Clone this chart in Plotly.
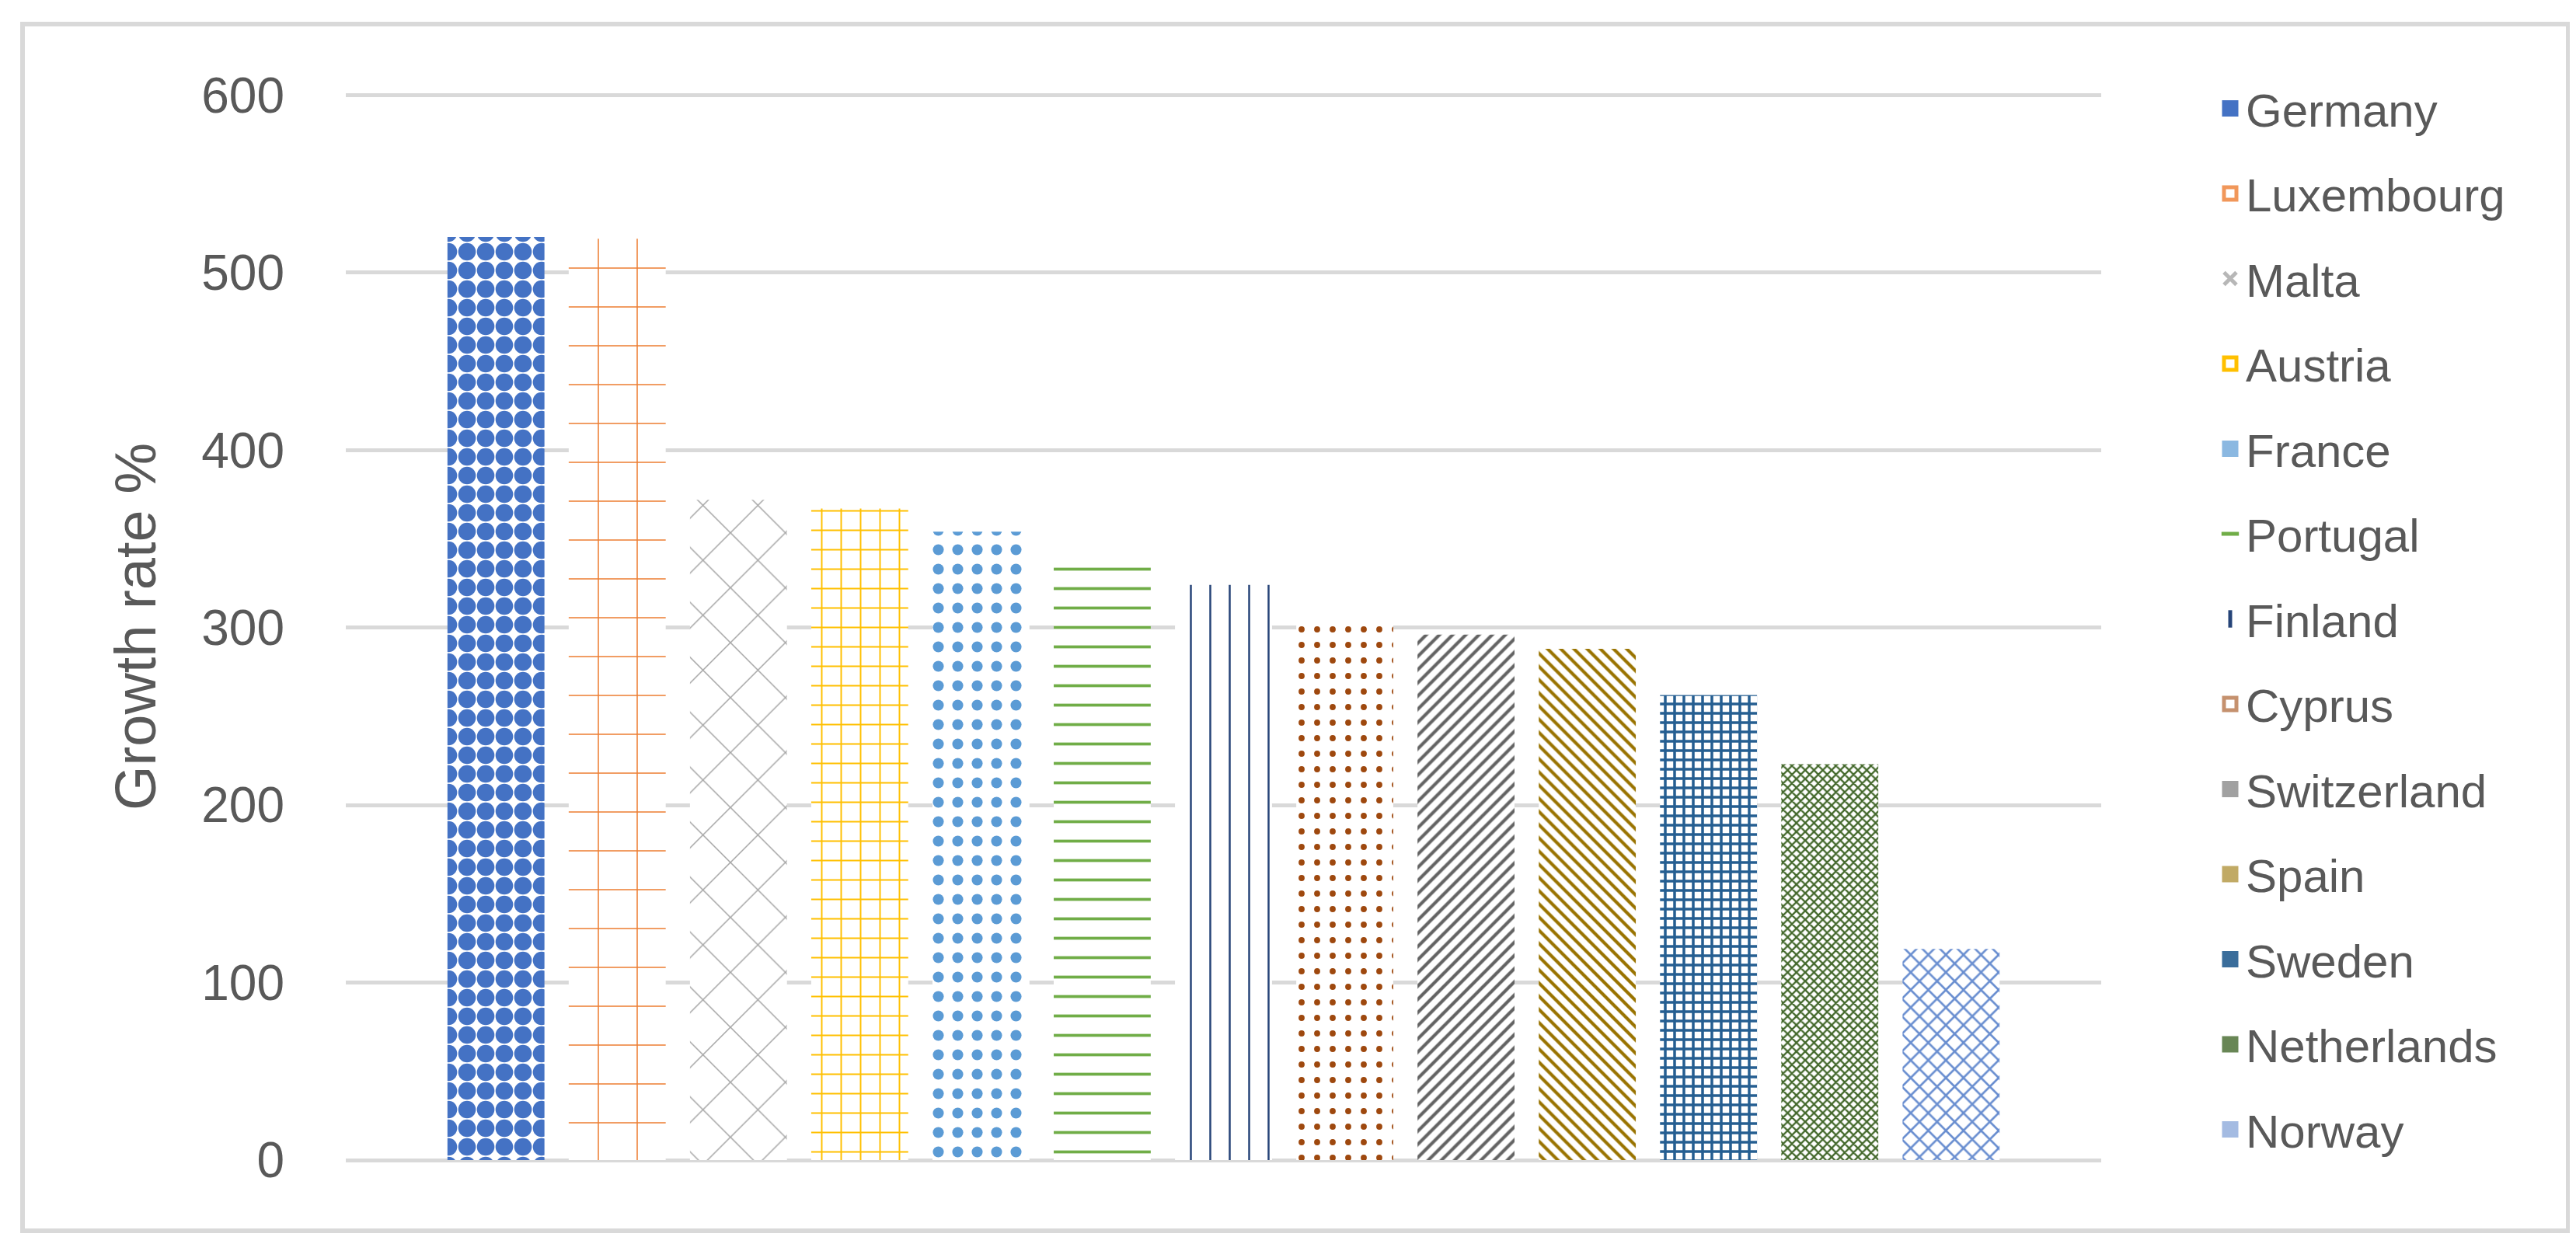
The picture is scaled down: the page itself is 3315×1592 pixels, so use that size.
import plotly.graph_objects as go

# growth rate by country
countries = ["Germany", "Luxembourg", "Malta", "Austria", "France", "Portugal",
             "Finland", "Cyprus", "Switzerland", "Spain", "Sweden", "Netherlands", "Norway"]
growth = [520, 519, 372, 367, 354, 338, 324, 305, 296, 288, 262, 223, 119]
colors = ["#4472C4", "#ED7D31", "#A5A5A5", "#FFC000", "#5B9BD5", "#70AD47",
          "#264478", "#9E480E", "#636363", "#997300", "#255E91", "#43682B", "#698ED0"]
# excel-ish pattern fills approximated with plotly pattern shapes
shapes = [".", "+", "x", "+", ".", "-", "|", ".", "/", "\\", "+", "x", "x"]
sizes = [24, 50, 50, 25, 25, 25, 25, 20, 12, 12, 12, 8, 16]
solid = [0.7, 0.06, 0.06, 0.15, 0.25, 0.15, 0.1, 0.12, 0.35, 0.35, 0.5, 0.5, 0.3]
# legend key look (the little pattern swatches in the excel legend)
key_symbols = ["square", "square-open", "x-thin-open", "square-open", "square", "line-ew-open",
               "line-ns-open", "square-open", "square", "square", "square", "square", "square"]
key_opacity = [1, 0.8, 0.8, 1, 0.7, 1, 1, 0.6, 0.6, 0.6, 0.9, 0.8, 0.6]
yticks = [0, 100, 200, 300, 400, 500, 600]
group = ["All"]

W, H = 3315, 1592
L, R, T, B = 437, 2696, 112, 1485  # plot area in px
TXT = "#595959"
GRID = "#D9D9D9"
FONT = "Liberation Sans"

fig = go.Figure()
for name, val, col, shp, sz, so in zip(countries, growth, colors, shapes, sizes, solid):
    fig.add_trace(go.Bar(
        x=group, y=[val], name=name, legendgroup=name, showlegend=False,
        marker=dict(color=col, line=dict(width=0),
                    pattern=dict(shape=shp, size=sz, solidity=so, fgcolor=col,
                                 bgcolor="white", fillmode="replace")),
    ))

# bigger legend keys than plotly's 12px bar swatch
for name, col, sym, op in zip(countries, colors, key_symbols, key_opacity):
    fig.add_trace(go.Scatter(
        x=[None], y=[None], mode="markers", name=name, legendgroup=name,
        marker=dict(symbol=sym, size=34, color=col, opacity=op,
                    line=dict(color=col, width=5)),
    ))

pw, ph = R - L, B - T
def px(x):
    return (x - L) / pw
def py(y):
    return (B - y) / ph

fig.update_layout(
    width=W, height=H,
    margin=dict(l=L, r=W - R, t=T, b=H - B),
    paper_bgcolor="white", plot_bgcolor="white",
    barmode="group", bargap=0.102, bargroupgap=0.2,
    font=dict(family=FONT, color=TXT, size=60),
    legend=dict(x=px(2842), y=py(86), xanchor="left", yanchor="top",
                font=dict(size=60, color=TXT), tracegroupgap=28.5,
                itemsizing="trace", maxheight=H,
                bgcolor="rgba(0,0,0,0)"),
    shapes=[dict(type="rect", xref="paper", yref="paper",
                 x0=px(21), x1=px(3297), y0=py(1576), y1=py(23),
                 line=dict(color=GRID, width=6), fillcolor="rgba(0,0,0,0)", layer="below")],
)
fig.update_xaxes(showticklabels=False, showgrid=False, zeroline=False, showline=False)
fig.update_yaxes(
    range=[0, 601], tickvals=yticks, showgrid=True, gridcolor=GRID, gridwidth=5,
    zeroline=True, zerolinecolor=GRID, zerolinewidth=5, showline=False,
    tickfont=dict(size=64, color=TXT), ticklabelstandoff=78,
    title=dict(text="Growth rate %", font=dict(size=74, color=TXT), standoff=34),
)

fig.write_html("out.html")
